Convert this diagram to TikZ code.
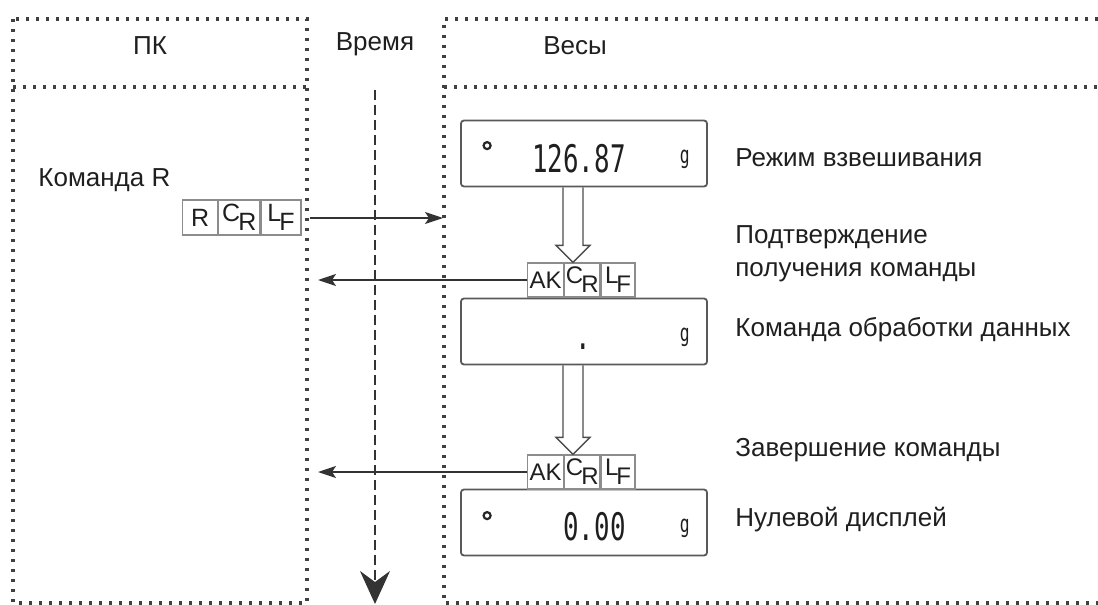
\documentclass[tikz,border=0pt]{standalone}
\usepackage{fontspec}
\setmainfont{Liberation Sans}
\newfontfamily\segfont[FakeStretch=0.68]{DejaVu Sans Mono}
\usetikzlibrary{arrows.meta,calc}

\begin{document}
\begin{tikzpicture}[x=0.5pt,y=-0.5pt,
  font=\fontsize{13}{16.5}\selectfont,
  zone/.style={black!75, line width=1.6pt, dash pattern=on 1.6pt off 3.4pt},
  head/.style={text=black!88, inner sep=0pt},
  lbl/.style={text=black!88, inner sep=0pt, anchor=west, align=left},
  disp/.style={draw=black!65, line width=0.9pt, rounded corners=1.5pt,
    minimum width=123pt, minimum height=33pt, inner sep=0pt},
  cell/.style={draw=black!45, line width=0.6pt, minimum height=17.5pt, inner sep=0pt,
    text=black!88, anchor=west, font=\fontsize{12.5}{12.5}\selectfont},
  akcell/.style={cell, minimum height=17pt, font=\fontsize{12}{12}\selectfont},
  seg/.style={inner sep=0pt, text=black!88, font=\segfont\fontsize{19}{19}\selectfont},
  unit/.style={inner sep=0pt, text=black!88, font=\segfont\fontsize{12}{12}\selectfont},
  stab/.style={circle, draw=black!85, line width=1.1pt, minimum size=3.5pt, inner sep=0pt},
  msg/.style={draw=black!80, line width=0.8pt, -{Stealth[length=9pt,width=6pt,inset=2pt]}},
  hollow/.style={draw=black!70, line width=0.7pt},
  timeline/.style={draw=black!80, line width=0.9pt, dash pattern=on 5pt off 2.5pt,
    -{Stealth[length=16.5pt,width=15pt,inset=5.5pt]}}
]

  \useasboundingbox (0,0) rectangle (1098,605);

  % ---- (1) the two columns, dotted ----
  \draw[zone] (13,19) rectangle (307,603);
  \draw[zone] (13,87) -- (307,87);
  \draw[zone] (1098,19) -- (444,19) -- (444,603) -- (1098,603);
  \draw[zone] (444,87) -- (1098,87);

  \node[head] (pc)   at (150,46) {ПК};
  \node[head] (time) at (375,44) {Время};
  \node[head] (bal)  at (575,46) {Весы};

  % ---- (2) time axis ----
  \coordinate (t0) at (375,90);
  \coordinate (t1) at (375,604);
  \draw[timeline] (t0) -- (t1);

  % ---- (3) PC sends R CR LF ----
  \node[lbl] (cmd) at (38,180) {Команда R};
  \node[cell, minimum width=17.5pt] (r1) at (182,217.5) {R};
  \node[cell, minimum width=20.5pt] (r2) at (r1.east)
    {\raisebox{2pt}{C}\kern-1pt\raisebox{-2.5pt}{R}};
  \node[cell, minimum width=20pt]   (r3) at (r2.east)
    {\raisebox{2pt}{L}\kern-1pt\raisebox{-2.5pt}{F}};

  \coordinate (sendA) at (310,218);
  \coordinate (sendB) at (443,218);
  \draw[msg] (sendA) -- (sendB);

  % ---- (4) balance displays ----
  \node[disp] (disp1) at (584,153.5) {};
  \node[disp] (disp2) at (584,331.5) {};
  \node[disp] (disp3) at (584,522.5) {};

  \node[seg, anchor=base east] (w1) at (626,172) {126.87};
  \node[seg, anchor=base]      (w2) at (583,349) {.};
  \node[seg, anchor=base east] (w3) at (626,540) {0.00};

  \foreach \d in {disp1,disp2,disp3}
    \node[unit] (g-\d) at ($(\d.north east)+(-23,40)$) {g};
  \node[stab] (st1) at ($(disp1.north west)+(27,26)$) {};
  \node[stab] (st3) at ($(disp3.north west)+(27,27)$) {};

  % ---- (5) AK CR LF replies ----
  \foreach \k/\yy in {1/280, 2/472} {
    \node[akcell, minimum width=18pt]   (ak\k a) at (527,\yy) {AK};
    \node[akcell, minimum width=17.5pt] (ak\k b) at (ak\k a.east)
      {\raisebox{2pt}{C}\kern-1pt\raisebox{-2.5pt}{R}};
    \node[akcell, minimum width=17pt]   (ak\k c) at (ak\k b.east)
      {\raisebox{2pt}{L}\kern-1pt\raisebox{-2.5pt}{F}};
  }

  \coordinate (pcin) at (318,0);
  \draw[msg] (ak1a.west) -- (ak1a.west -| pcin);
  \draw[msg] (ak2a.west) -- (ak2a.west -| pcin);

  % hollow arrows: display -> reply
  \foreach \src/\dst in {disp1/ak1b, disp2/ak2b}
    \draw[hollow] let \p1=($(\src.south)+(-11,0)$), \p2=(\dst.north) in
      (\x1-5pt,\y1) -- (\x1-5pt,\y2+8.5pt) -- (\x1-8.5pt,\y2+8.5pt) -- (\x1,\y2)
      -- (\x1+8.5pt,\y2+8.5pt) -- (\x1+5pt,\y2+8.5pt) -- (\x1+5pt,\y1);

  % ---- (6) step labels ----
  \node[lbl] (mode) at (735,158)   {Режим взвешивания};
  \node[lbl] (ackl) at (735,253.5) {Подтверждение\\получения команды};
  \node[lbl] (proc) at (735,330)   {Команда обработки данных};
  \node[lbl] (done) at (735,450)   {Завершение команды};
  \node[lbl] (zero) at (735,520)   {Нулевой дисплей};

\end{tikzpicture}
\end{document}
